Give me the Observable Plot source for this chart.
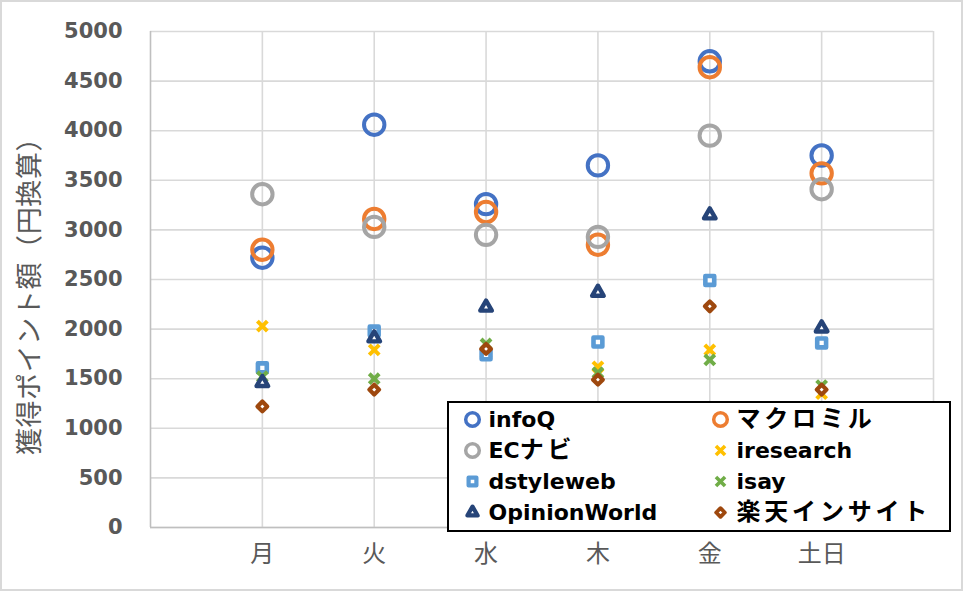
<!DOCTYPE html>
<html><head><meta charset="utf-8">
<script src="https://cdn.jsdelivr.net/npm/d3@7"></script>
<script src="https://cdn.jsdelivr.net/npm/@observablehq/plot@0.6"></script>
<style>
body{margin:0;background:#fff;}
#wrap{position:relative;width:963px;height:591px;overflow:hidden;background:#fff;}
#wrap > svg{position:absolute;left:0;top:0;}
#frame{position:absolute;left:0;top:0;width:963px;height:591px;box-sizing:border-box;border:2px solid #d9d9d9;pointer-events:none;}
#legend{position:absolute;left:447px;top:401px;width:504px;height:131px;box-sizing:border-box;border:2px solid #000;background:#fff;}
#legend svg{position:absolute;left:0;top:0;overflow:visible;}
</style></head><body><div id="wrap"><div id="legend"></div><div id="frame"></div></div>
<script>
const days = ["月","火","水","木","金","土日"];
const seriesNames = ["infoQ","マクロミル","ECナビ","iresearch","dstyleweb","isay","OpinionWorld","楽天インサイト"];
const infoQ        = [2720,4060,3260,3650,4700,3750];
const macromill    = [2800,3110,3180,2850,4640,3570];
const ecnavi       = [3360,3030,2950,2930,3950,3410];
const iresearch    = [2030,1790,1760,1620,1790,1350];
const dstyleweb    = [1610,1980,1740,1870,2490,1860];
const isay         = [1520,1500,1850,1560,1690,1430];
const opinionWorld = [1460,1910,2220,2370,3150,2010];
const rakuten      = [1220,1390,1800,1490,2230,1390];
const yTicks = [0,500,1000,1500,2000,2500,3000,3500,4000,4500,5000];
const yLabel = "獲得ポイント額（円換算）";

const seriesValues = [infoQ, macromill, ecnavi, iresearch, dstyleweb, isay, opinionWorld, rakuten];
const styles = {
  "infoQ":        {symbol:"circle",  stroke:"#4472C4", fill:"none",  strokeWidth:4,   r:10.2, lr:6.8, lsw:3.5},
  "マクロミル":    {symbol:"circle",  stroke:"#ED7D31", fill:"none",  strokeWidth:4,   r:10.2, lr:6.8, lsw:3.5},
  "ECナビ":        {symbol:"circle",  stroke:"#A5A5A5", fill:"none",  strokeWidth:4,   r:10.2, lr:6.8, lsw:3.5},
  "iresearch":    {symbol:"times",   stroke:"#FFC000", fill:"none",  strokeWidth:4,   r:4.6, lr:4.2, lsw:3.6},
  "dstyleweb":    {symbol:"square",  stroke:"#5B9BD5", fill:"white", strokeWidth:4.6, r:5.0, lr:4.4, lsw:4.2},
  "isay":         {symbol:"times",   stroke:"#70AD47", fill:"none",  strokeWidth:4,   r:4.6, lr:4.2, lsw:3.6},
  "OpinionWorld": {symbol:"triangle",stroke:"#264478", fill:"white", strokeWidth:4.4, r:4.3, lr:3.8, lsw:4.2},
  "楽天インサイト": {symbol:"diamond2",stroke:"#9E480E", fill:"white", strokeWidth:4.2, r:4.4, lr:3.9, lsw:3.8}
};

const rows = [];
seriesNames.forEach((s, k) => seriesValues[k].forEach((v, i) => rows.push({series: s, day: i + 1, value: v})));

const font = "'DejaVu Sans', 'Noto Sans CJK JP', sans-serif";
const cjk = "'Noto Sans CJK JP', sans-serif";

const chart = Plot.plot({
  width: 963, height: 591,
  marginLeft: 150, marginRight: 30, marginTop: 31, marginBottom: 64,
  style: {fontFamily: font, background: "transparent"},
  x: {domain: [0, 7], ticks: [1,2,3,4,5,6]},
  y: {domain: [0, 5000]},
  marks: [
    Plot.gridY(yTicks, {stroke: "#d9d9d9", strokeOpacity: 1, strokeWidth: 1.6}),
    Plot.gridX([1,2,3,4,5,6,7], {stroke: "#d9d9d9", strokeOpacity: 1, strokeWidth: 1.6}),
    Plot.ruleX([0], {stroke: "#bfbfbf", strokeWidth: 1.6}),
    Plot.ruleY([0], {stroke: "#bfbfbf", strokeWidth: 1.6}),
    Plot.axisY(yTicks, {tickSize: 0, tickPadding: 28, fontSize: 21, fontWeight: "bold", fill: "#595959",
      tickFormat: d3.format("d"),
      label: yLabel, labelAnchor: "center", labelArrow: "none", labelOffset: 131}),
    Plot.axisX([1,2,3,4,5,6], {tickSize: 0, tickPadding: 17, fontSize: 24, fill: "#595959",
      fontFamily: cjk, tickFormat: d => days[d - 1], label: null}),
    ...seriesNames.map(s => {
      const st = styles[s];
      return Plot.dot(rows.filter(d => d.series === s), {x: "day", y: "value", symbol: () => st.symbol,
        stroke: st.stroke, fill: st.fill, strokeWidth: st.strokeWidth, r: st.r, strokeLinejoin: "round"});
    })
  ]
});
const yl = chart.querySelector("g[aria-label='y-axis label']");
if (yl) {
  yl.setAttribute("font-size", "27"); yl.setAttribute("font-weight", "normal");
  yl.setAttribute("font-family", cjk); yl.setAttribute("fill", "#595959");
  yl.setAttribute("transform", "translate(0,10) " + (yl.getAttribute("transform") || ""));
  yl.querySelectorAll("text").forEach(t => {
    t.setAttribute("font-size", "27"); t.setAttribute("font-weight", "normal");
    t.setAttribute("letter-spacing", "0.6");
  });
}
document.getElementById("wrap").insertBefore(chart, document.getElementById("legend"));

const legendRows = seriesNames.map((s, k) => ({series: s, col: k % 2, row: Math.floor(k / 2)}));
const legend = Plot.plot({
  width: 500, height: 127, margin: 0,
  style: {fontFamily: font, background: "transparent", overflow: "visible"},
  x: {domain: [0, 1], range: [23, 271], axis: null},
  y: {domain: [0, 3], range: [16, 109], axis: null},
  marks: [
    ...legendRows.map(d => {
      const st = styles[d.series];
      return Plot.dot([d], {x: "col", y: "row", symbol: () => st.symbol, stroke: st.stroke, fill: st.fill,
        strokeWidth: st.lsw, r: st.lr, strokeLinejoin: "round"});
    }),
    Plot.text(legendRows, {x: "col", y: "row", text: "series", dx: 16, textAnchor: "start",
      fontSize: 22, fontWeight: "bold", fill: "#000"})
  ]
});
// Japanese runs in the legend are set a little larger and wider, as in the reference
legend.querySelectorAll("text").forEach(t => {
  const s = t.textContent;
  if (!/[\u3040-\u9fff]/.test(s)) return;
  const parts = s.match(/[\u3040-\u9fff]+|[^\u3040-\u9fff]+/g);
  t.textContent = "";
  parts.forEach(p => {
    const ts = document.createElementNS("http://www.w3.org/2000/svg", "tspan");
    ts.textContent = p;
    if (/[\u3040-\u9fff]/.test(p)) {
      ts.setAttribute("font-family", cjk);
      ts.setAttribute("font-size", "24");
      ts.setAttribute("font-weight", "bold");
      ts.setAttribute("letter-spacing", "3.8");
    }
    t.appendChild(ts);
  });
});
document.getElementById("legend").appendChild(legend);
</script>
</body></html>
